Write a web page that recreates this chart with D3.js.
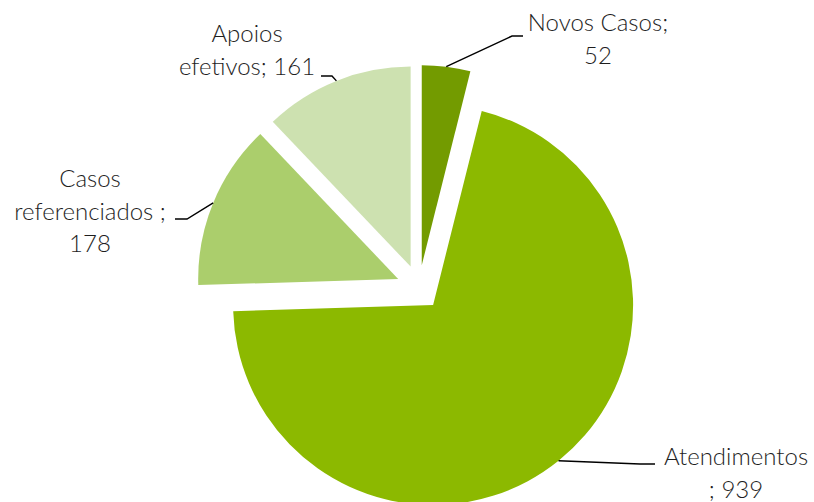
<!DOCTYPE html>
<html>
<head>
<meta charset="utf-8">
<script src="https://cdn.jsdelivr.net/npm/d3@7"></script>
<style>
  html, body { margin: 0; padding: 0; background: #fff; }
  svg { display: block; }
  text { font-family: Lato, "Open Sans", sans-serif; font-weight: 300; fill: #1e1e1e; }
</style>
</head>
<body>
<svg id="chart" width="814" height="502"></svg>
<script>
// Categories and values, in drawing order (clockwise from 12 o'clock)
const categories = ["Novos Casos", "Atendimentos ", "Casos referenciados ", "Apoios efetivos"];
const values = [52, 939, 178, 161];
const colors = ["#739b00", "#8cb900", "#abce6c", "#cde1b0"];
// Words per line for each wrapped data label
const labelWordsPerLine = [[2, 1], [1, 2], [1, 2, 1], [1, 2]];

// Label placement: centre x of the text block, first baseline,
// and the leader line's elbow and end point
const labelLayout = [
  { x: 598, y: 31,  elbow: [512, 36],  end: [523, 36] },
  { x: 736, y: 465, elbow: [640, 464], end: [655, 464] },
  { x: 90,  y: 187, elbow: [187, 219], end: [175, 219] },
  { x: 247, y: 42,  elbow: [332, 76],  end: [321, 76] }
];

const cx = 419, cy = 287.5, radius = 200, explode = 22.5, lineHeight = 32.5;

const data = categories.map((c, i) => ({ name: c, value: values[i], color: colors[i], i }));

const pie = d3.pie().sort(null).value(d => d.value).startAngle(0).endAngle(2 * Math.PI);
const arc = d3.arc().innerRadius(0).outerRadius(radius);
const arcs = pie(data);

const svg = d3.select("#chart");
const g = svg.append("g").attr("transform", `translate(${cx},${cy})`);

// Offset of each exploded slice along its bisector
const mid = a => (a.startAngle + a.endAngle) / 2;
const shift = a => [Math.sin(mid(a)) * explode, -Math.cos(mid(a)) * explode];

g.selectAll("path.slice")
  .data(arcs)
  .join("path")
  .attr("class", "slice")
  .attr("d", arc)
  .attr("fill", d => d.data.color)
  .attr("transform", d => `translate(${shift(d)[0]},${shift(d)[1]})`);

// Leader lines start on each slice's outer edge at its bisector
const leader = svg.append("g");
arcs.forEach(a => {
  const [sx, sy] = shift(a);
  const m = mid(a);
  const start = [cx + sx + Math.sin(m) * radius, cy + sy - Math.cos(m) * radius];
  const lay = labelLayout[a.data.i];
  leader.append("path")
    .attr("d", d3.line()([start, lay.elbow, lay.end]))
    .attr("fill", "none")
    .attr("stroke", "#000")
    .attr("stroke-width", 1.4);
});

// Wrapped data labels "name; value"
const labels = svg.append("g");
arcs.forEach(a => {
  const d = a.data;
  const words = `${d.name}; ${d.value}`.split(/\s+/);
  const lines = [];
  let k = 0;
  labelWordsPerLine[d.i].forEach(n => { lines.push(words.slice(k, k + n).join(" ")); k += n; });
  const lay = labelLayout[d.i];
  const t = labels.append("text")
    .attr("text-anchor", "middle")
    .attr("font-size", 24);
  lines.forEach((ln, j) => {
    t.append("tspan").attr("x", lay.x).attr("y", lay.y + j * lineHeight).text(ln);
  });
});
</script>
</body>
</html>
